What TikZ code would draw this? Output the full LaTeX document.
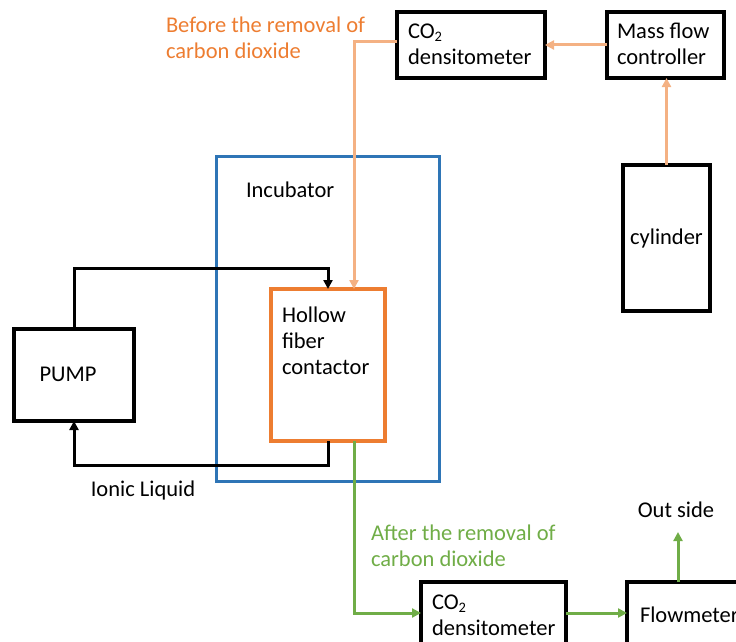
\documentclass[tikz,border=0pt]{standalone}
\usepackage{fontspec}
\setmainfont{Carlito}
\usetikzlibrary{arrows.meta}
\definecolor{boxorange}{HTML}{ED7D31}
\definecolor{lineorange}{HTML}{F4B183}
\definecolor{incblue}{HTML}{2E75B6}
\definecolor{flowgreen}{HTML}{70AD47}
\newcommand{\cotwo}{CO\raisebox{-0.28ex}{\fontsize{14.5}{14.5}\selectfont 2}}
\begin{document}
\begin{tikzpicture}[x=1pt,y=-1pt,
  every node/.style={font=\fontsize{22.5}{26}\selectfont, inner sep=0pt, outer sep=0pt},
  blackbox/.style={draw=black, line width=3.2pt, rectangle, align=left},
  txt/.style={align=left, anchor=west},
  tip/.style={-{Triangle[length=9pt,width=9pt]}},
  orangeflow/.style={draw=lineorange, line width=3pt, tip},
  blackflow/.style={draw=black, line width=3pt, tip},
  greenflow/.style={draw=flowgreen, line width=3pt, tip}]
\useasboundingbox (0,0) rectangle (736,642);
\clip (0,0) rectangle (736,642);
% boxes
\node[blackbox, minimum width=148pt, minimum height=66pt] (co2a) at (471,45) {};
\node[txt, text width=132pt] (co2atxt) at (408,44) {\cotwo\\densitometer};
\node[blackbox, minimum width=117pt, minimum height=66pt] (mfc) at (665.5,45) {};
\node[txt] (mfctxt) at (617,44) {Mass flow\\controller};
\node[blackbox, minimum width=87pt, minimum height=146pt] (cyl) at (666.5,238) {cylinder};
\node[draw=incblue, line width=3pt, minimum width=223pt, minimum height=325pt] (inc) at (327.5,318.5) {};
\node[txt] (inctxt) at (246,190) {Incubator};
\node[draw=boxorange, line width=3.2pt, minimum width=114pt, minimum height=152pt] (hfc) at (328,365) {};
\node[txt] (hfctxt) at (282,341) {Hollow\\fiber\\contactor};
\node[blackbox, minimum width=120pt, minimum height=92pt] (pump) at (74,375) {};
\node (pumptxt) at (68,374) {PUMP};
\node[blackbox, minimum width=145pt, minimum height=80pt] (co2b) at (493.5,622) {};
\node[txt, text width=132pt] (co2btxt) at (432,615.5) {\cotwo\\densitometer};
\node[blackbox, minimum width=130pt, minimum height=80pt] (fm) at (692,622) {};
\node[txt] (fmtxt) at (640,615) {Flowmeter};
% labels
\node[txt, text=boxorange] (before) at (166,38) {Before the removal of\\carbon dioxide};
\node[txt, text=flowgreen] (after) at (371,546) {After the removal of\\carbon dioxide};
\node (ionic) at (143,490) {Ionic Liquid};
\node (outtxt) at (676,510) {Out side};
\coordinate (out) at (678,532);
% connectors
\draw[orangeflow] (mfc.west) -- (co2a.east);
\draw[orangeflow] (cyl.north) -- (cyl.north |- mfc.south);
\draw[orangeflow] ([yshift=3pt]co2a.west) -| ([xshift=26pt]hfc.north);
\draw[blackflow] (pump.north) -- ++(0,-61) -| (hfc.north);
\draw[blackflow] (hfc.south) -- ++(0,24) -| (pump.south);
\draw[greenflow] ([xshift=26pt]hfc.south) |- ([yshift=9pt]co2b.west);
\draw[greenflow] ([yshift=9pt]co2b.east) -- ([yshift=9pt]fm.west);
\draw[greenflow] (fm.north -| out) -- (out);
\end{tikzpicture}
\end{document}
